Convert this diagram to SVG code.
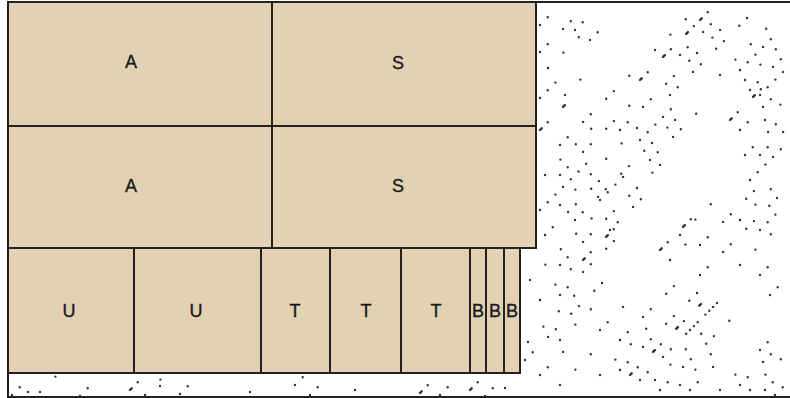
<svg xmlns="http://www.w3.org/2000/svg" width="790" height="398" viewBox="0 0 790 398">
<style>
.cell{fill:#e2d1b3;stroke:#222;stroke-width:2}
.lbl{font-family:"Liberation Sans","DejaVu Sans",sans-serif;font-size:18px;fill:#1a1a1a;stroke:#1a1a1a;stroke-width:0.35;text-anchor:middle}
.dots path{fill:none;stroke:#333;stroke-width:2.4;stroke-linecap:round}
.d1{stroke-dasharray:0 10.89}
.d2{stroke-dasharray:0 10.89 0 21.78}
.d3{stroke-dasharray:0 21.78}
.d4{stroke-dasharray:2.4 8.49 0 21.78}
</style>
<defs>
<clipPath id="fr"><rect x="9" y="3" width="790" height="393"/></clipPath>
</defs>
<rect id="frame" x="8" y="2" width="800" height="395" fill="#fff" stroke="#222" stroke-width="2"/>
<g class="dots" clip-path="url(#fr)">
<path class="d1" d="M540 25l15.4 -15.4M540 98l23.1 -23.1M575 30l15.4 -15.4M540 210l53.9 -53.9M740 70l38.5 -38.5M760 95l30.8 -30.8M750 180l38.5 -38.5M760 230l23.1 -23.1M770 295l15.4 -15.4M775 395l15.4 -15.4M640 140l38.5 -38.5M12 395l15.4 -15.4M180 394l15.4 -15.4M28 392l7.7 -7.7M250 392l7.7 -7.7M160 386l7.7 -7.7M355 390l7.7 -7.7M505 388l7.7 -7.7M295 385l15.4 -15.4M600 200l30.8 -30.8M690 330l30.8 -30.8"/>
<path class="d4" d="M640 80l61.6 -61.6M630 375l77 -77M420 393l23.1 -23.1M470 390l15.4 -15.4M130 390l15.4 -15.4M583 260l46.2 -46.2M700 20l23.1 -23.1M660 250l46.2 -46.2M540 130l30.8 -30.8M730 120l46.2 -46.2"/>
<path class="d2" d="M540 52l38.5 -38.5M590 40l23.1 -23.1M560 145l77 -77M560 175l77 -77M680 55l46.2 -46.2M620 130l107.8 -107.8M670 95l84.7 -84.7M545 235l69.3 -69.3M575 220l115.5 -115.5M650 160l53.9 -53.9M560 265l107.8 -107.8M610 230l46.2 -46.2M750 90l38.5 -38.5M560 295l61.6 -61.6M740 130l46.2 -46.2M525 360l92.4 -92.4M745 155l46.2 -46.2M540 375l30.8 -30.8M760 155l30.8 -30.8M600 330l30.8 -30.8M700 245l61.6 -61.6M620 340l69.3 -69.3M700 275l84.7 -84.7M620 370l92.4 -92.4M640 380l84.7 -84.7M760 275l23.1 -23.1M660 390l77 -77M690 390l30.8 -30.8M760 350l23.1 -23.1M740 385l46.2 -46.2M765 390l23.1 -23.1M80 396l15.4 -15.4M310 395l15.4 -15.4M440 395l15.4 -15.4M485 396l23.1 -23.1"/>
<path class="d3" d="M548 68l46.2 -46.2M565 95l30.8 -30.8M655 50l38.5 -38.5M545 175l61.6 -61.6M560 205l92.4 -92.4M720 75l61.6 -61.6M530 280l77 -77M745 80l46.2 -46.2M540 300l46.2 -46.2M528 342l53.9 -53.9M765 120l23.1 -23.1M560 340l46.2 -46.2M680 235l38.5 -38.5M670 260l30.8 -30.8M560 385l38.5 -38.5M740 220l46.2 -46.2M600 375l61.6 -61.6M740 265l46.2 -46.2M655 380l61.6 -61.6M680 385l38.5 -38.5M720 390l23.1 -23.1M750 390l38.5 -38.5M145 395l23.1 -23.1M40 392l23.1 -23.1"/>
</g>
<g id="a1"><rect class="cell" x="8" y="2" width="264" height="124"/><text class="lbl" x="131" y="68">A</text></g>
<g id="s1"><rect class="cell" x="272" y="2" width="264" height="124"/><text class="lbl" x="398" y="69">S</text></g>
<g id="a2"><rect class="cell" x="8" y="126" width="264" height="122"/><text class="lbl" x="131" y="192">A</text></g>
<g id="s2"><rect class="cell" x="272" y="126" width="264" height="122"/><text class="lbl" x="398" y="192">S</text></g>
<g id="u1"><rect class="cell" x="8" y="248" width="126" height="125"/><text class="lbl" x="69" y="317">U</text></g>
<g id="u2"><rect class="cell" x="134" y="248" width="127" height="125"/><text class="lbl" x="196" y="317">U</text></g>
<g id="t1"><rect class="cell" x="261" y="248" width="69" height="125"/><text class="lbl" x="295" y="317">T</text></g>
<g id="t2"><rect class="cell" x="330" y="248" width="71" height="125"/><text class="lbl" x="366" y="317">T</text></g>
<g id="t3"><rect class="cell" x="401" y="248" width="69" height="125"/><text class="lbl" x="436" y="317">T</text></g>
<g id="b1"><rect class="cell" x="470" y="248" width="16" height="125"/><text class="lbl" x="478" y="317">B</text></g>
<g id="b2"><rect class="cell" x="486" y="248" width="18" height="125"/><text class="lbl" x="495" y="317">B</text></g>
<g id="b3"><rect class="cell" x="504" y="248" width="16" height="125"/><text class="lbl" x="512" y="317">B</text></g>
<g id="connectors"/>
</svg>
